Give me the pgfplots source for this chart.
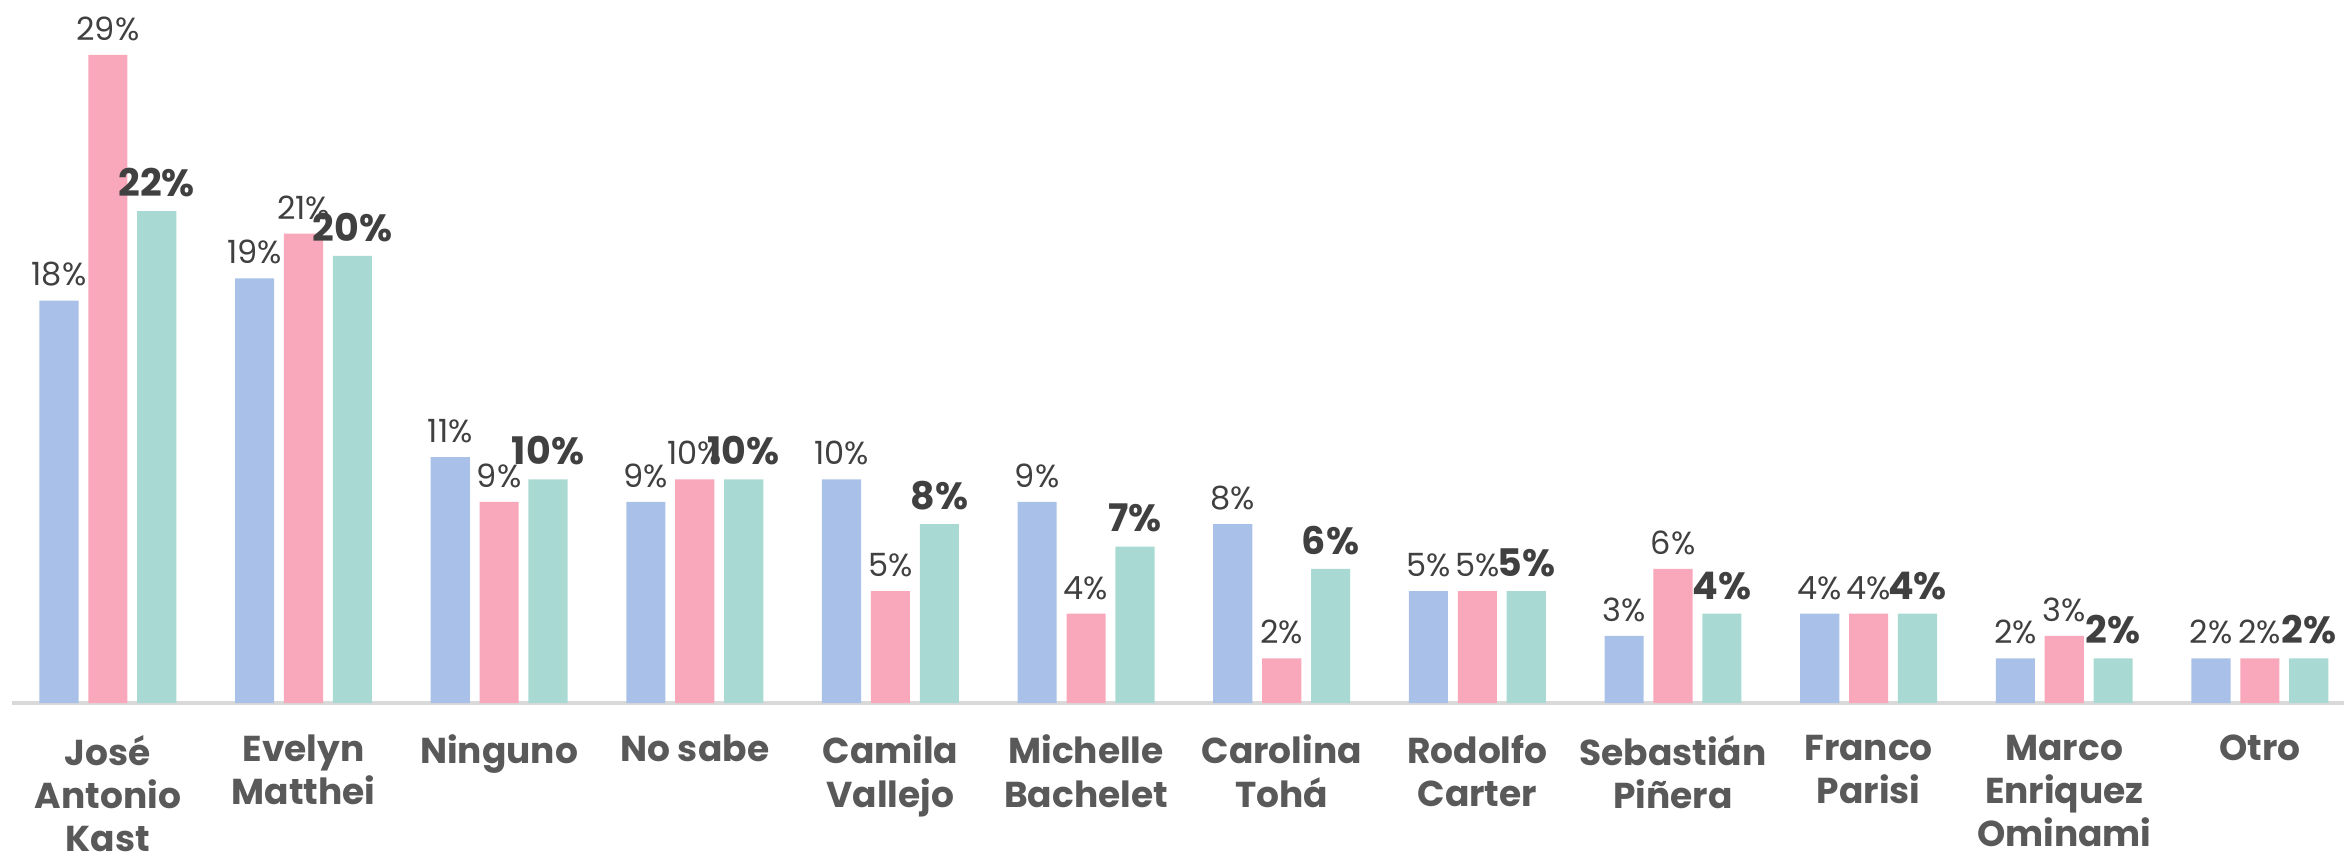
\documentclass[border=0pt]{standalone}
\usepackage{pgfplots}
\pgfplotsset{compat=1.18}
\usepackage{fontspec}
\setmainfont{Poppins}
\definecolor{cblue}{HTML}{A9C1E8}
\definecolor{cpink}{HTML}{F8A8BA}
\definecolor{cteal}{HTML}{A8DAD3}
\definecolor{vtext}{HTML}{404040}
\definecolor{ctext}{HTML}{595959}
\definecolor{axl}{HTML}{D9D9D9}
\begin{document}
\begin{tikzpicture}
\begin{axis}[
  name=ax,
  scale only axis,
  width=583pt, height=175.75pt,
  xmin=-0.49, xmax=11.43,
  ymin=0, ymax=31.45,
  axis x line=bottom, axis y line=none,
  x axis line style={-, draw=axl, line width=1pt},
  major tick length=0pt,
  /pgf/number format/assume math mode=true,
  xtick={0,...,11},
  xticklabels={Jos\'e\\Antonio\\Kast, Evelyn\\Matthei, Ninguno, No sabe, Camila\\Vallejo, Michelle\\Bachelet, Carolina\\Toh\'a, Rodolfo\\Carter, Sebasti\'an\\Piñera, Franco\\Parisi, Marco\\Enriquez\\Ominami, Otro},
  xticklabel style={align=center, font=\fontsize{9}{10.8}\selectfont\bfseries, text=ctext, yshift=-4.5pt},
  ytick=\empty,
  clip=false,
  ybar, bar width=0.2,
  nodes near coords={\pgfmathprintnumber[assume math mode=true]{\pgfplotspointmeta}\%},
]
\addplot[fill=cblue, draw=none, bar shift=-0.25,
  every node near coord/.append style={font=\fontsize{8}{9}\selectfont, text=vtext}]
  coordinates {(0,18)(1,19)(2,11)(3,9)(4,10)(5,9)(6,8)(7,5)(8,3)(9,4)(10,2)(11,2)};
\addplot[fill=cpink, draw=none, bar shift=0,
  every node near coord/.append style={font=\fontsize{8}{9}\selectfont, text=vtext}]
  coordinates {(0,29)(1,21)(2,9)(3,10)(4,5)(5,4)(6,2)(7,5)(8,6)(9,4)(10,3)(11,2)};
\addplot[fill=cteal, draw=none, bar shift=0.25,
  every node near coord/.append style={font=\fontsize{9.5}{10}\selectfont\bfseries, text=vtext}]
  coordinates {(0,22)(1,20)(2,10)(3,10)(4,8)(5,7)(6,6)(7,5)(8,4)(9,4)(10,2)(11,2)};
\end{axis}
\pgfresetboundingbox
\path[use as bounding box] ([xshift=-3pt, yshift=-39pt]ax.south west) rectangle (ax.north east);
\end{tikzpicture}
\end{document}
